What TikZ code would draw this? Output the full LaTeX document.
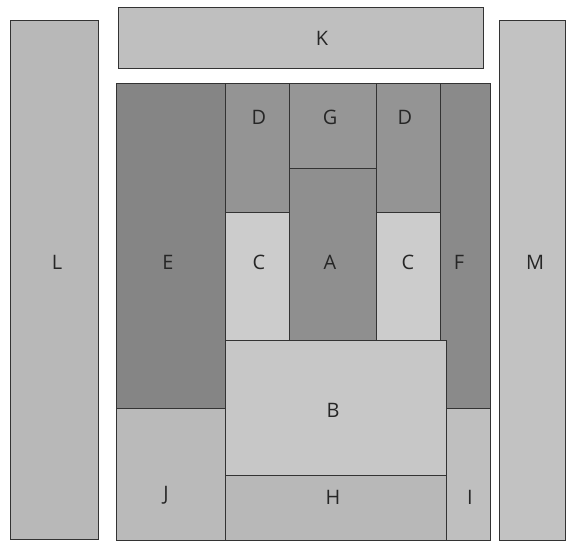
\documentclass[tikz,border=0pt]{standalone}
\usepackage{fontspec}
\setmainfont{Open Sans}
\usepackage{tikz}
\usetikzlibrary{positioning}
\tikzset{
  patch/.style={rectangle, draw=black!80, line width=0.6pt, inner sep=0pt},
  patchlab/.style={font=\fontsize{17}{17}\selectfont, text=black!85, inner sep=0pt},
}
% name/x1/y1/x2/y2/shade/label x/label y/label  (pixel grid, y downwards)
\def\patchlist{%
  K/118/7/483/68/25/322/38/K, L/10/20/98/539/28/57/262/L,
  M/499/20/565/540/24/535/262/M,
  E/116/83/225/408/48/168/262/E, Dl/225/83/289/212/42/259/117/D,
  G/289/83/376/168/41/330/117/G, Dr/376/83/440/212/42/405/117/D,
  F/440/83/490/408/46/459/262/F,
  Cl/225/212/289/340/20/259/262/C, A/289/168/376/340/44/330/262/A,
  Cr/376/212/440/340/20/408/262/C,
  B/225/340/446/475/22/333/410/B, J/116/408/225/540/27/166/495/J,
  H/225/475/446/540/28/333/497/H, I/446/408/490/540/25/470/497/I}
\begin{document}
\begin{tikzpicture}[x=0.3mm,y=-0.3mm]
\useasboundingbox (0,0) rectangle (571,543);
\foreach \n/\xa/\ya/\xb/\yb/\s/\lx/\ly/\lab in \patchlist {
  \node[patch, fill=black!\s, minimum width={(\xb-\xa)*0.3mm},
        minimum height={(\yb-\ya)*0.3mm}]
     (\n) at ({(\xa+\xb)/2},{(\ya+\yb)/2}) {};
  \node[patchlab] (\n-lab) at (\lx,\ly) {\lab};}
\end{tikzpicture}
\end{document}
